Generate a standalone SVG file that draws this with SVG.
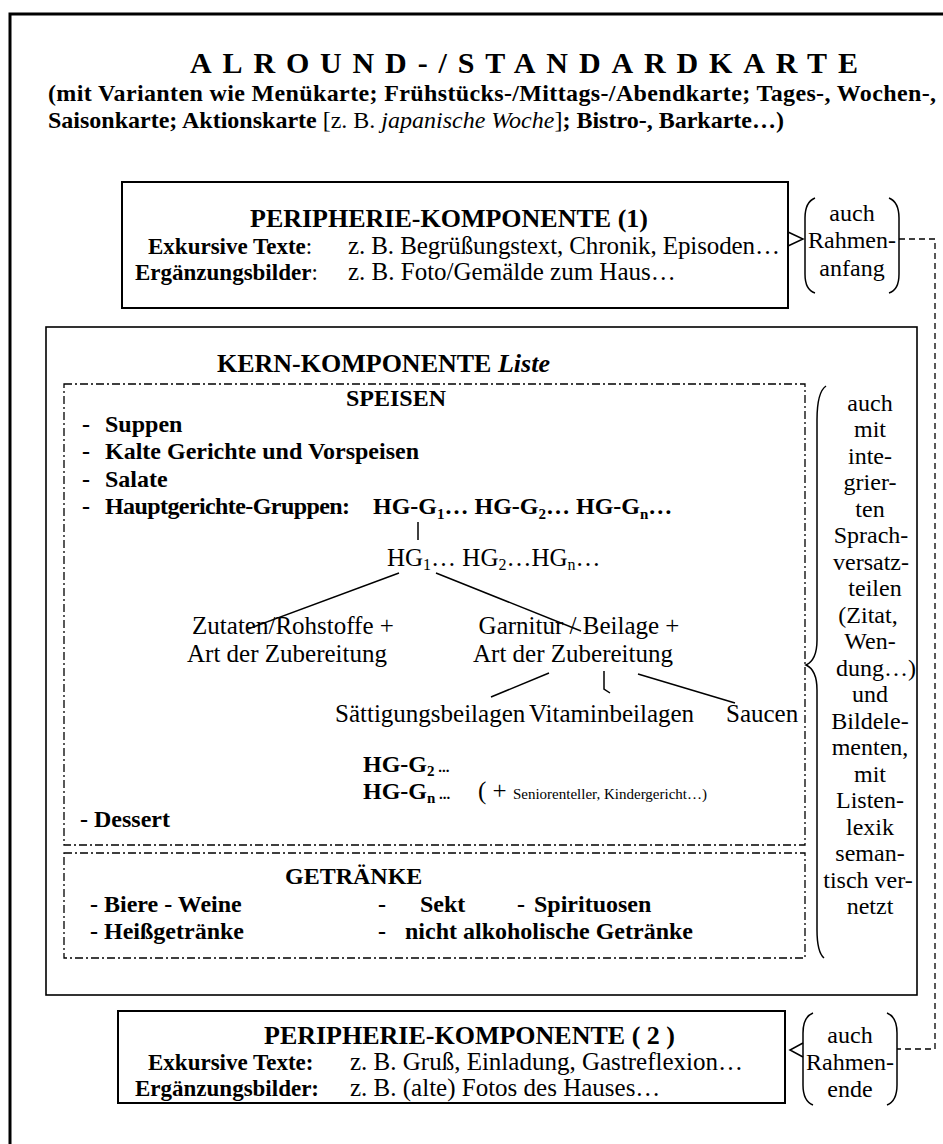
<svg xmlns="http://www.w3.org/2000/svg" width="943" height="1144" viewBox="0 0 943 1144">
<style>
text{font-family:"Liberation Serif","Times New Roman",serif;fill:#000}
.b{font-weight:bold}
.i{font-style:italic}
.t{font-size:30px;font-weight:bold}
.h{font-size:26px;font-weight:bold}
.sub{font-size:24px;font-weight:bold}
.lb{font-size:23px;font-weight:bold}
.n{font-size:25px}
.m{font-size:24px;font-weight:bold}
.r{font-size:24px}
.c{text-anchor:middle}
.box{fill:none;stroke:#000;stroke-width:2}
.dd{fill:none;stroke:#000;stroke-width:1.3;stroke-dasharray:8 3 2 3}
.ln{fill:none;stroke:#000;stroke-width:1.5}
.dash{fill:none;stroke:#000;stroke-width:1.3;stroke-dasharray:6 4}
</style>
<rect width="943" height="1144" fill="#fff"/>
<g id="frame"><path d="M10,1144 V14 H943" fill="none" stroke="#000" stroke-width="3"/></g>
<g id="title">
<text class="t" x="190" y="73" textLength="668" lengthAdjust="spacing">ALROUND-/STANDARDKARTE</text>
<text class="sub" x="48" y="101" textLength="888" lengthAdjust="spacing">(mit Varianten wie Menükarte; Frühstücks-/Mittags-/Abendkarte; Tages-, Wochen-,</text>
<text class="sub" x="48" y="128" font-size="22.5">Saisonkarte; Aktionskarte <tspan font-weight="normal">[z. B. </tspan><tspan font-weight="normal" class="i">japanische Woche</tspan><tspan font-weight="normal">]</tspan>; Bistro-, Barkarte…)</text>
</g>
<g id="peripherie1">
<rect class="box" x="122" y="182" width="666" height="126"/>
<text class="h" x="250" y="227">PERIPHERIE-KOMPONENTE (1)</text>
<text class="lb" x="148" y="254">Exkursive Texte<tspan font-weight="normal">:</tspan></text>
<text class="n" x="348" y="254" textLength="432" lengthAdjust="spacing">z. B. Begrüßungstext, Chronik, Episoden…</text>
<text class="lb" x="135" y="280">Ergänzungsbilder<tspan font-weight="normal">:</tspan></text>
<text class="n" x="348" y="280">z. B. Foto/Gemälde zum Haus…</text>
</g>
<g id="rahmenanfang">
<path class="ln" d="M815,198 Q805,202 805,218 V274 Q805,290 815,293 M889,198 Q899,202 899,218 V274 Q899,290 889,293"/>
<text class="r c" x="852" y="221">auch</text>
<text class="r c" x="852" y="248">Rahmen-</text>
<text class="r c" x="852" y="276">anfang</text>
</g>
<g id="kern">
<rect x="46" y="327" width="871" height="668" fill="none" stroke="#000" stroke-width="1.6"/>
<text class="h" x="217" y="372" font-size="28">KERN-KOMPONENTE <tspan class="i">Liste</tspan></text>
</g>
<g id="speisen">
<rect class="dd" x="64" y="384" width="741" height="461"/>
<text class="m c" x="396" y="406">SPEISEN</text>
<text class="m" x="82" y="432">-</text><text class="m" x="105" y="432">Suppen</text>
<text class="m" x="82" y="459">-</text><text class="m" x="105" y="459">Kalte Gerichte und Vorspeisen</text>
<text class="m" x="82" y="487">-</text><text class="m" x="105" y="487">Salate</text>
<text class="m" x="82" y="514">-</text><text class="m" x="105" y="514" textLength="245" lengthAdjust="spacing">Hauptgerichte-Gruppen:</text>
<text class="m" x="373" y="514">HG-G<tspan font-size="15" dy="5">1</tspan><tspan dy="-5">…  HG-G</tspan><tspan font-size="15" dy="5">2</tspan><tspan dy="-5">… HG-G</tspan><tspan font-size="15" dy="5">n</tspan><tspan dy="-5">…</tspan></text>
<text class="n" x="387" y="566">HG<tspan font-size="16" dy="4">1</tspan><tspan dy="-4">…  HG</tspan><tspan font-size="16" dy="4">2</tspan><tspan dy="-4">…HG</tspan><tspan font-size="16" dy="4">n</tspan><tspan dy="-4">…</tspan></text>
<text class="n c" x="293" y="634">Zutaten/Rohstoffe +</text>
<text class="n c" x="287" y="662">Art der Zubereitung</text>
<text class="n c" x="579" y="634">Garnitur / Beilage +</text>
<text class="n c" x="573" y="662">Art der Zubereitung</text>
<text class="n" x="335" y="722">Sättigungsbeilagen</text>
<text class="n" x="529" y="722">Vitaminbeilagen</text>
<text class="n" x="726" y="722">Saucen</text>
<text class="m" x="363" y="772">HG-G<tspan font-size="15" dy="4">2</tspan><tspan font-size="15" dy="-4"> ...</tspan></text>
<text class="m" x="363" y="799">HG-G<tspan font-size="15" dy="4">n</tspan><tspan font-size="15" dy="-4"> ...</tspan></text>
<text class="n" x="478" y="799">( + <tspan font-size="15">Seniorenteller, Kindergericht…)</tspan></text>
<text class="m" x="80" y="827">- Dessert</text>
</g>
<g id="getraenke">
<rect class="dd" x="64" y="853" width="741" height="105"/>
<text class="m" x="285" y="884">GETRÄNKE</text>
<text class="m" x="90" y="912">- Biere -   Weine</text>
<text class="m" x="378" y="912">-</text><text class="m" x="420" y="912">Sekt</text>
<text class="m" x="517" y="912">-</text><text class="m" x="534" y="912">Spirituosen</text>
<text class="m" x="90" y="939">- Heißgetränke</text>
<text class="m" x="378" y="939">-</text><text class="m" x="405" y="939">nicht alkoholische Getränke</text>
</g>
<g id="randtext">
<path class="ln" d="M826,386 Q817,392 817,420 V640 Q817,660 806,665 Q817,670 817,690 V930 Q817,952 824,958"/>
<text class="r c" x="870" y="411">auch</text>
<text class="r c" x="870" y="437">mit</text>
<text class="r c" x="870" y="464">inte-</text>
<text class="r c" x="870" y="490">grier-</text>
<text class="r c" x="870" y="517">ten</text>
<text class="r c" x="871" y="543">Sprach-</text>
<text class="r c" x="871" y="570">versatz-</text>
<text class="r c" x="875" y="596">teilen</text>
<text class="r c" x="868" y="623">(Zitat,</text>
<text class="r c" x="870" y="649">Wen-</text>
<text class="r c" x="876" y="676">dung…)</text>
<text class="r c" x="870" y="702">und</text>
<text class="r c" x="870" y="729">Bildele-</text>
<text class="r c" x="870" y="755">menten,</text>
<text class="r c" x="870" y="782">mit</text>
<text class="r c" x="870" y="808">Listen-</text>
<text class="r c" x="870" y="835">lexik</text>
<text class="r c" x="870" y="861">seman-</text>
<text class="r c" x="868" y="888">tisch ver-</text>
<text class="r c" x="870" y="914">netzt</text>
</g>
<g id="peripherie2">
<rect class="box" x="118" y="1011" width="667" height="92"/>
<text class="h" x="264" y="1044" font-size="25">PERIPHERIE-KOMPONENTE ( 2 )</text>
<text class="lb" x="148" y="1070">Exkursive Texte:</text>
<text class="n" x="350" y="1070">z. B. Gruß, Einladung, Gastreflexion…</text>
<text class="lb" x="135" y="1096">Ergänzungsbilder:</text>
<text class="n" x="350" y="1096">z. B. (alte) Fotos des Hauses…</text>
</g>
<g id="rahmenende">
<path class="ln" d="M813,1013 Q803,1017 803,1033 V1085 Q803,1101 813,1105 M887,1013 Q897,1017 897,1033 V1085 Q897,1101 887,1105"/>
<text class="r c" x="850" y="1043">auch</text>
<text class="r c" x="850" y="1070">Rahmen-</text>
<text class="r c" x="850" y="1097">ende</text>
</g>
<g id="connectors">
<path class="ln" d="M418,522 V540"/>
<path class="ln" d="M399,573 L248,629"/>
<path class="ln" d="M436,573 L581,631"/>
<path class="ln" d="M549,673 L491,697"/>
<path class="ln" d="M604,671 V689 L610,693"/>
<path class="ln" d="M638,674 L735,703"/>
<path class="ln" d="M788,232 L803,239 L788,246"/>
<path class="ln" d="M803,1043 L790,1050 L803,1057"/>
<path class="dash" d="M899,239 H935 V1049 H897"/>
</g>
</svg>
